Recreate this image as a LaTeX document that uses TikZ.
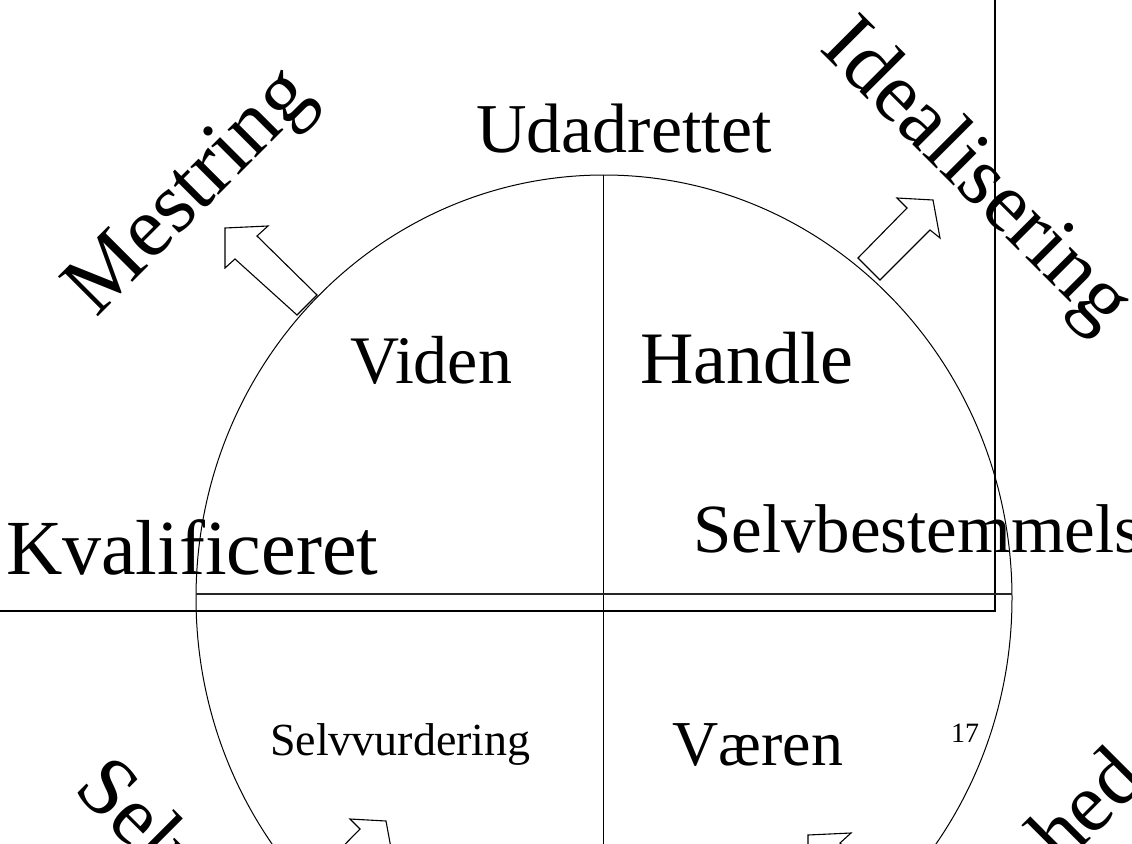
\documentclass[tikz,border=0pt]{standalone}
\usepackage{fontspec}
\setmainfont{Liberation Serif}[Ligatures=NoCommon]
\begin{document}
\begin{tikzpicture}[x=1pt,y=-1pt,
  lbl/.style={font=\fontsize{#1pt}{#1pt}\selectfont, inner sep=0pt, outer sep=0pt},
  thin line/.style={line width=1pt, black},
  box line/.style={line width=2.6pt, black},
  block arrow/.style={line width=1.1pt, black, fill=white, line join=miter}]
\useasboundingbox (0,0) rectangle (1132,843);
\clip (0,0) rectangle (1132,843);
\fill[white] (0,0) rectangle (1132,843);

% frame (partially visible rectangle)
\draw[box line] (-10,611) -- (995,611) -- (995,-10);

% circle and axes
\draw[thin line] (604,598) ellipse [x radius=408pt, y radius=423pt];
\coordinate (top) at (603,175);
\coordinate (bottom) at (603,860);
\coordinate (left) at (196,594);
\coordinate (right) at (1012,594);
\draw[thin line] (top) -- (bottom);
\draw[line width=1.6pt, black!85] (left) -- (right);

% block arrows
\draw[block arrow] (225,228) -- (268,226) -- (257,236) -- (317,295) -- (297,315) -- (235,259) -- (225,268) -- cycle;
\draw[block arrow] (933,200) -- (940,238) -- (930,230) -- (880,280) -- (858,258) -- (907,208) -- (897,198) -- cycle;
\draw[block arrow] (386,821) -- (393,859) -- (383,851) -- (333,901) -- (311,879) -- (360,829) -- (350,819) -- cycle;
\draw[block arrow] (808,835) -- (851,833) -- (840,843) -- (900,902) -- (880,922) -- (818,866) -- (808,875) -- cycle;

% texts
\node[lbl=70, anchor=base] (udad) at (624,152) {Udadrettet};
\node[lbl=68, anchor=base west] (viden) at (350,383) {Viden};
\node[lbl=74, anchor=base west] (handle) at (640,383) {Handle};
\node[lbl=78, anchor=base west] (kval) at (6,574) {Kvalificeret};
\node[lbl=69, anchor=base west] (selvb) at (693,552) {Selvbestemmelse};
\node[lbl=46, anchor=base west] (selvv) at (270,755) {Selvvurdering};
\node[lbl=64, anchor=base east] (vaeren) at (843,765) {Væren};
\node[lbl=28, anchor=base west] (num) at (951,742) {17};

\node[lbl=86, anchor=base west, rotate=45] (mestring) at (96,318) {Mestring};
\node[lbl=85, anchor=base west, rotate=-45] (ideal) at (818,50) {Idealisering};
\node[lbl=84, anchor=base west, rotate=-45] (selvbl) at (72,790) {Selv};
\node[lbl=84, anchor=base east, rotate=45] (hed) at (1148,782) {hed};
\end{tikzpicture}
\end{document}
